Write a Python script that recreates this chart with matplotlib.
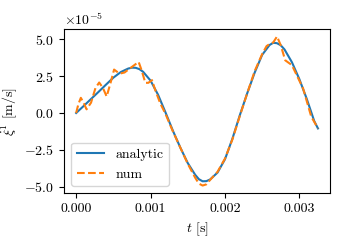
import matplotlib
matplotlib.use("Agg")
import matplotlib.pyplot as plt

plt.rcParams['font.family'] = 'serif'
plt.rcParams['font.serif'] = ['cmr10']
plt.rcParams['mathtext.fontset'] = 'cm'
plt.rcParams['axes.formatter.use_mathtext'] = True
plt.rcParams['font.size'] = 10

# analytic solution (units of 1e-5 m/s)
t_analytic = [0.0, 0.0001, 0.0002, 0.0003, 0.0004, 0.0005, 0.0006, 0.0007, 0.00075,
              0.0008, 0.00085, 0.0009, 0.0010, 0.0011, 0.0012, 0.0013, 0.0014, 0.0015,
              0.0016, 0.00165, 0.0017, 0.00175, 0.0018, 0.0019, 0.0020, 0.0021, 0.0022,
              0.0023, 0.0024, 0.0025, 0.0026, 0.00265, 0.0027, 0.00275, 0.0028, 0.0029,
              0.0030, 0.0031, 0.0032, 0.00325]
v_analytic = [0.00, 0.47, 0.95, 1.43, 1.92, 2.40, 2.78, 3.02, 3.08,
              3.07, 2.98, 2.80, 2.20, 1.25, 0.05, -1.20, -2.35, -3.40,
              -4.20, -4.50, -4.64, -4.63, -4.52, -4.05, -3.15, -1.75, -0.15,
              1.35, 2.75, 3.95, 4.62, 4.77, 4.74, 4.60, 4.32, 3.45,
              2.30, 0.95, -0.55, -1.05]

# numerical solution (units of 1e-5 m/s)
t_num = [0.0, 0.00003, 0.000063, 0.0001, 0.00014, 0.0002, 0.00026, 0.00031, 0.00036,
         0.00041, 0.00046, 0.00051, 0.00055, 0.00059, 0.00065, 0.00072, 0.00084,
         0.00088, 0.00093, 0.00097, 0.00102, 0.00106, 0.00113, 0.0012, 0.0013,
         0.0014, 0.0015, 0.0016, 0.00165, 0.0017, 0.00175, 0.0018, 0.0019, 0.0020,
         0.0021, 0.0022, 0.0023, 0.0024, 0.0025, 0.00256, 0.0026, 0.00265, 0.0027,
         0.00275, 0.00281, 0.0029, 0.00305, 0.00316, 0.0032, 0.00325]
v_num = [0.0, 0.6, 1.03, 0.7, 0.25, 0.7, 1.7, 2.07, 1.7,
         1.12, 2.0, 2.95, 2.8, 2.68, 2.75, 3.02, 3.47,
         2.9, 2.05, 2.05, 2.23, 1.6, 0.66, -0.05, -1.25,
         -2.35, -3.45, -4.4, -4.8, -4.93, -4.85, -4.55, -4.0, -3.1,
         -1.8, -0.2, 1.35, 2.85, 4.0, 4.55, 4.68, 4.8, 5.2,
         4.6, 3.58, 3.25, 1.67, -0.25, -0.6, -1.05]

scale = 1e-5

fig = plt.figure(figsize=(3.5, 2.5), dpi=100)
ax = fig.add_axes([0.183, 0.228, 0.760, 0.656])
ax.plot(t_analytic, [v * scale for v in v_analytic], color='C0', label='analytic')
ax.plot(t_num, [v * scale for v in v_num], color='C1', linestyle='--', label='num')
ax.set_xlabel(r'$t$ [s]')
ax.set_ylabel(r'$\dot{\xi}^1$ [m/s]')
ax.set_xticks([0.0, 0.001, 0.002, 0.003])
ax.set_xticklabels(['0.000', '0.001', '0.002', '0.003'])
ax.legend(loc='lower left')
fig.savefig('out.png', dpi=100)
